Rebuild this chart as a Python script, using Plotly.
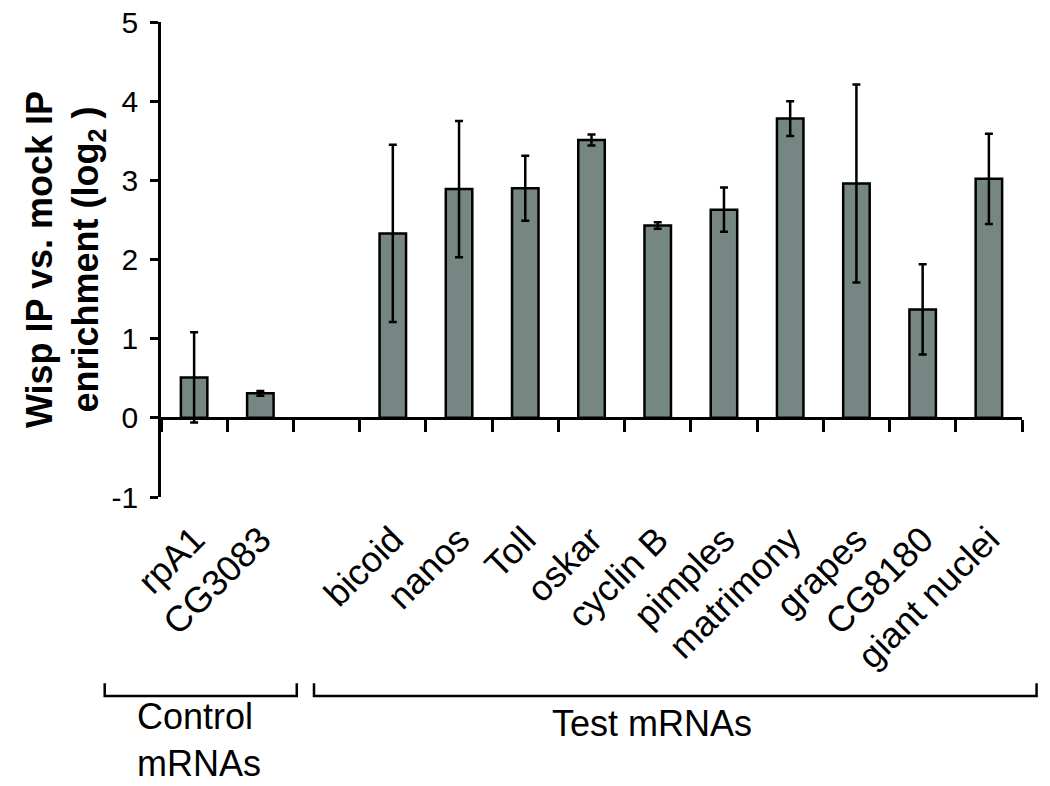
import plotly.graph_objects as go

# ---- data ----
control_genes = ["rpA1", "CG3083"]
test_genes = ["bicoid", "nanos", "Toll", "oskar", "cyclin B", "pimples",
              "matrimony", "grapes", "CG8180", "giant nuclei"]
control_values = [0.51, 0.31]
control_errors = [0.57, 0.03]
test_values = [2.33, 2.89, 2.90, 3.51, 2.43, 2.63, 3.78, 2.96, 1.37, 3.02]
test_errors = [1.12, 0.86, 0.41, 0.07, 0.04, 0.28, 0.22, 1.25, 0.57, 0.57]
y_ticks = [-1, 0, 1, 2, 3, 4, 5]
group_labels = ["Control<br>mRNAs", "Test mRNAs"]

# ---- layout constants ----
FONT = "Liberation Sans, Arial, sans-serif"
BAR_COLOR = "rgb(118,134,131)"
W, H = 1050, 786
ML, MR, MT, MB = 153, 36, 14, 297
YMIN, YMAX = -1, 5
GAP_SLOTS = 1  # one empty slot between the two groups

labels = control_genes + test_genes
values = control_values + test_values
errors = control_errors + test_errors
x_pos = list(range(len(control_genes))) + \
    [len(control_genes) + GAP_SLOTS + i for i in range(len(test_genes))]
nslots = len(control_genes) + GAP_SLOTS + len(test_genes)
boundaries = [i - 0.5 for i in range(nslots + 1)]

def slot_to_paper(c):
    return (c + 0.5) / nslots

fig = go.Figure()
fig.add_trace(go.Bar(
    x=x_pos, y=values, width=0.40,
    marker=dict(color=BAR_COLOR, line=dict(color="black", width=2.5)),
    error_y=dict(type="data", array=errors, visible=True,
                 color="black", thickness=2.5, width=4),
    xaxis="x", yaxis="y", showlegend=False,
))

zero_pos = (0 - YMIN) / (YMAX - YMIN)
xrange = [-0.5, nslots - 0.5]

fig.update_layout(
    width=W, height=H,
    margin=dict(l=ML, r=MR, t=MT, b=MB, autoexpand=False),
    plot_bgcolor="white", paper_bgcolor="white",
    font=dict(family=FONT, color="black"),
    xaxis=dict(
        range=xrange, tickmode="array", tickvals=boundaries,
        anchor="free", position=zero_pos, automargin=False,
        showline=True, linecolor="black", linewidth=2.5,
        ticks="outside", ticklen=12, tickwidth=2.5,
        tickcolor="black", showticklabels=False, showgrid=False, zeroline=False,
    ),
    xaxis2=dict(
        range=xrange, tickmode="array", tickvals=x_pos, ticktext=labels,
        overlaying="x", anchor="y", side="bottom", automargin=False,
        showline=False, showgrid=False, zeroline=False,
        ticks="outside", ticklen=6, tickcolor="rgba(0,0,0,0)",
        tickangle=-45, tickfont=dict(family=FONT, size=36, color="black"),
    ),
    yaxis=dict(
        range=[YMIN, YMAX], tickmode="array", tickvals=y_ticks,
        ticktext=[str(v) for v in y_ticks], automargin=False,
        showline=True, linecolor="black", linewidth=2.5,
        ticks="outside", ticklen=8, tickwidth=2.5, tickcolor="black",
        tickfont=dict(family=FONT, size=30, color="black"),
        ticklabelstandoff=6, ticklabeloverflow="allow",
        showgrid=False, zeroline=False,
        title=dict(
            text="<b>Wisp IP vs. mock IP<br>enrichment (log<sub>2</sub> )</b>",
            font=dict(family=FONT, size=36, color="black"),
            standoff=2,
        ),
    ),
)

# dummy invisible trace so that xaxis2 is drawn
fig.add_trace(go.Scatter(x=x_pos, y=values, mode="markers",
                         marker=dict(opacity=0), xaxis="x2", yaxis="y",
                         showlegend=False, hoverinfo="skip"))

# group brackets (slot-unit extents) and labels
bracket_spans = [(-1.35, 1.55), (1.81, 12.72)]
bracket_y, bracket_tip = -0.419, -0.392
for (a, b) in bracket_spans:
    xa, xb = slot_to_paper(a), slot_to_paper(b)
    fig.add_shape(type="path", xref="paper", yref="paper",
                  path=f"M {xa},{bracket_tip} L {xa},{bracket_y} L {xb},{bracket_y} L {xb},{bracket_tip}",
                  line=dict(color="black", width=2.5))

fig.add_annotation(text=group_labels[0], xref="paper", yref="paper",
                   x=-0.030, y=-0.512, xanchor="left", yanchor="middle", align="left",
                   showarrow=False, font=dict(family=FONT, size=36, color="black"))
fig.add_annotation(text=group_labels[1], xref="paper", yref="paper",
                   x=0.570, y=-0.476, xanchor="center", yanchor="middle",
                   showarrow=False, font=dict(family=FONT, size=36, color="black"))

fig.write_html("out.html")
